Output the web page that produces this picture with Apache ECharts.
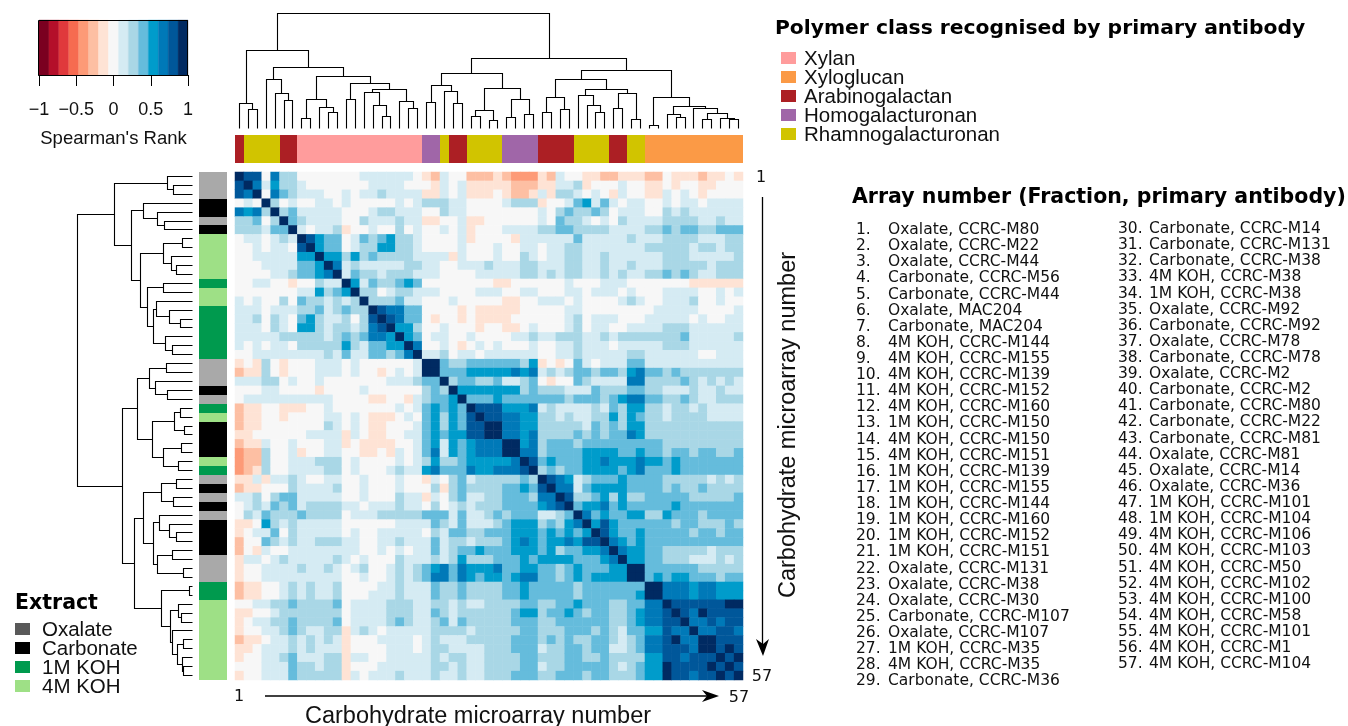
<!DOCTYPE html>
<html><head><meta charset="utf-8">
<style>html,body{margin:0;padding:0;background:#fff}#c{width:1348px;height:726px}</style>
<script src="https://cdn.jsdelivr.net/npm/echarts@6/dist/echarts.min.js"></script>
</head><body><div id="c"></div>
<script>
// Colour scale for Spearman's rank (15 bins from -1 to 1)
const rhoColors=['#7a0020','#b40f2a','#e0393c','#f66b50','#fd9a77','#fdbfa3','#fee3d5','#f7f7f7','#d5ebf3','#a9d7e6','#65bcdc','#009ccb','#0079b8','#00579a','#002a62'];
const rhoTicks=[-1,-0.5,0,0.5,1];
// Upper triangle of the symmetric matrix, each row starting on the diagonal.
// Bin codes: . = 0, 1..7 = positive bins, a b c = negative bins
const upperRows=[
"766.522.......111111.ab1..bbb"+"abcccab1..aabbaaabb.aaabaa.a",
"7514221.......1111...a1.1aaa"+"aabbbaa112a...1..aa.a..aa...",
"7.532111..1.1121111aa1.1aaa"+".abba1a221.1.a1..aa1.1.a....",
"72.1..11.1.....1.122211..."+".1222a..134131.11..1.11.1111",
"72311111...122111..211..."+".....1.232232.111..212111111",
"7321111..2111211aa..1aa."+".....1.3221.1.21111222211211",
"71.112a..1..2.1..1.1a.."+".111122332222111122323322333",
"76433.13234221....1a.."+"..a1111113111112111222211122",
"7433.12244221....1..."+"1..11.1122111111122222122122",
"744242322221111a1..."+"1..21.1122112111111222111112",
"7512111112211..1112"+"1112211122112112111222221222",
"713221222111....11"+"1112212122112121122323211222",
"741322343........"+"aa......1...111.......aaaaaa",
"722.122111....11"+"1..11...11.111.1...1111..1.1",
"7222311...1...."+".aa..111.1....121..1112..1..",
"765533....a.aa"+"aaa.....11........11111....1",
"76533.a..a.aa"+"aa......12.111...11111.1..11",
"7442..1...a."+".aa.1...12.11..1111222111111",
"743.11..1.."+"..11211222112122222223111112",
"75..1.a.1."+"1...1..112111.11111222111111",
"7112.11.1"+"11111..1121111122111111..111",
"77322333"+"33324a.a.31.1113311111111111",
"7333444"+"4454512123323324533232222222",
"723322"+"31123.a..3211115522223212121",
"74444"+"4442322211132223322111211211",
"7333"+"4333333323332345533223211222",
"766"+"6444512111121324422122121111",
"76"+"6554422121122424322122221111",
"7"+"7554422222132324422222222222",
"7554522223232335422222222222",
"774523332333333333222222222",
"75523333444433433233233223",
"7634333445444544343333333",
"723233444434533343333333",
"76541233343333222221212",
"7551344443333232232222",
"762234242233333222223",
"73445343333343333333",
"7534334422433323333",
"746433333323322232",
"76433433333233233",
"7543433333333333",
"754433222221222",
"74433222111212",
"7733333322222",
"734344333233",
"77555455444",
"7555455444",
"766666677",
"76576666",
"7556566",
"755665",
"77666",
"7676",
"767",
"76",
"7"];
const binCode={'.':0,'1':1,'2':2,'3':3,'4':4,'5':5,'6':6,'7':7,'a':-1,'b':-2,'c':-3};

// Row / column annotations, one letter per array number (1..57)
const polymerCodes="AYYYYAAXXXXXXXXXXXXXXHHYAAYYYYHHHHAAAAYYYYAAYYGGGGGGGGGGG";
const polymerNames=['Xylan','Xyloglucan','Arabinogalactan','Homogalacturonan','Rhamnogalacturonan'];
const polymerColors={X:'#ff9c9c',G:'#fb9a46',A:'#ac1f24',H:'#a066a8',Y:'#d1c400'};
const polymerLegendKeys=['X','G','A','H','Y'];
const extractCodes="OOOCCOC44444144111111OOOCO14CCCC41OCOCOCCCCOOO11444444444";
const extractNames=['Oxalate','Carbonate','1M KOH','4M KOH'];
const extractColors={O:'#a9a9a9',C:'#000000','1':'#009a4e','4':'#9ee086'};
const extractLegendColors=['#595959','#000000','#009a4e','#9ee086'];

// Dendrogram: [height, left, right]; integers are leaf indices
const dendroTree=[115,
 [78,[25,0,[19,1,2]],
  [61,[49,3,[35,4,[28,5,6]]],
   [52,[29,[10,7,8],[21,9,[16,10,11]]],
    [45,[29,12,13],
     [39,[36,14,[23,15,[12,16,17]]],[27,18,[20,19,20]]]]]]],
 [70,
  [55,[43,[26,21,22],[37,23,[25,24,25]]],
   [40,[18,[12,26,27],[8,28,29]],[29,[11,30,31],[14,32,33]]]],
  [58,
   [49,[31,[16,34,35],[19,36,37]],
    [39,[33,38,[23,39,[16,40,41]]],[35,[20,42,43],[9,44,45]]]],
   [31,[3,46,47],
    [22,[14,48,[11,49,50]],
     [20,51,[15,[9,52,53],[10,54,[9,55,56]]]]]]]]];

const arrayLabels=["Oxalate, CCRC-M80","Oxalate, CCRC-M22","Oxalate, CCRC-M44","Carbonate, CCRC-M56","Carbonate, CCRC-M44","Oxalate, MAC204","Carbonate, MAC204","4M KOH, CCRC-M144","4M KOH, CCRC-M155","4M KOH, CCRC-M139","4M KOH, CCRC-M152","4M KOH, CCRC-M160","1M KOH, CCRC-M150","4M KOH, CCRC-M150","4M KOH, CCRC-M151","1M KOH, CCRC-M139","1M KOH, CCRC-M155","1M KOH, CCRC-M144","1M KOH, CCRC-M160","1M KOH, CCRC-M152","1M KOH, CCRC-M151","Oxalate, CCRC-M131","Oxalate, CCRC-M38","Oxalate, CCRC-M30","Carbonate, CCRC-M107","Oxalate, CCRC-M107","1M KOH, CCRC-M35","4M KOH, CCRC-M35","Carbonate, CCRC-M36","Carbonate, CCRC-M14","Carbonate, CCRC-M131","Carbonate, CCRC-M38","4M KOH, CCRC-M38","1M KOH, CCRC-M38","Oxalate, CCRC-M92","Carbonate, CCRC-M92","Oxalate, CCRC-M78","Carbonate, CCRC-M78","Oxalate, CCRC-M2","Carbonate, CCRC-M2","Carbonate, CCRC-M80","Carbonate, CCRC-M22","Carbonate, CCRC-M81","Oxalate, CCRC-M81","Oxalate, CCRC-M14","Oxalate, CCRC-M36","1M KOH, CCRC-M101","1M KOH, CCRC-M104","4M KOH, CCRC-M106","4M KOH, CCRC-M103","4M KOH, CCRC-M50","4M KOH, CCRC-M102","4M KOH, CCRC-M100","4M KOH, CCRC-M58","4M KOH, CCRC-M101","4M KOH, CCRC-M1","4M KOH, CCRC-M104"];

const N=57, BIN=2/15;
upperRows.forEach((r,i)=>{if(r.length!==N-i)console.error('row',i,'length',r.length);});
const cells=[];
upperRows.forEach((r,i)=>{for(let k=0;k<r.length;k++){const v=binCode[r[k]]*BIN,j=i+k;cells.push([j,i,v]);if(j!==i)cells.push([i,j,v]);}});
const pieces=rhoColors.map((c,i)=>({min:-1+i*BIN,max:-1+(i+1)*BIN,color:c}));
const cats=Array.from({length:N},(_,i)=>String(i+1));

// layout of the dendrogram from the tree
const segs=[];
(function walk(n){
  if(typeof n==='number')return{x:n+0.5,h:0};
  const a=walk(n[1]),b=walk(n[2]);
  segs.push([a.x,a.h,b.x,b.h,n[0]]);
  return{x:(a.x+b.x)/2,h:n[0]};
})(dendroTree);

const lineStyle={stroke:'#000',lineWidth:1.1,fill:null};
const snap=v=>Math.round(v-0.5)+0.5;
function dendroRender(horizontal){
  return function(p,api){
    const d=[0,1,2,3,4].map(i=>api.value(i));
    const P=(x,h)=>{const c=api.coord(horizontal?[x,h]:[h,x]);return [snap(c[0]),snap(c[1])];};
    return{type:'polyline',silent:true,shape:{points:[P(d[0],d[1]),P(d[0],d[4]),P(d[2],d[4]),P(d[2],d[3])]},style:lineStyle};
  };
}
function stripRender(codes,cmap,horizontal){
  return function(p,api){
    const i=api.value(0);
    const a=api.coord(horizontal?[i,0]:[0,i]),b=api.coord(horizontal?[i+1,1]:[1,i+1]);
    const x0=Math.round(Math.min(a[0],b[0])),x1=Math.round(Math.max(a[0],b[0])),y0=Math.round(Math.min(a[1],b[1])),y1=Math.round(Math.max(a[1],b[1]));
    return{type:'rect',silent:true,shape:{x:x0,y:y0,width:x1-x0,height:y1-y0},style:{fill:cmap[codes[i]]}};
  };
}
const idx=Array.from({length:N},(_,i)=>[i]);
const hidden=(o)=>Object.assign({show:false,type:'value'},o);

const HX=235,HY=172,HS=508;
const grids=[
 {left:HX,top:HY,width:HS,height:HS},
 {left:HX,top:135,width:HS,height:28},
 {left:199,top:HY,width:28,height:HS},
 {left:HX,top:13,width:HS,height:115.5},
 {left:77,top:HY,width:115.5,height:HS},
 {left:39,top:20,width:149,height:55}
].map(g=>Object.assign({outerBoundsMode:'none',show:false},g));

const xAxes=[
 {gridIndex:0,type:'category',data:cats,show:false},
 hidden({gridIndex:1,min:0,max:N}),
 hidden({gridIndex:2,min:0,max:1}),
 hidden({gridIndex:3,min:0,max:N}),
 hidden({gridIndex:4,min:0,max:115,inverse:true}),
 {gridIndex:5,type:'value',min:-1,max:1,interval:0.5,position:'bottom',
  axisLine:{show:true,onZero:false,lineStyle:{color:'#000',width:1}},
  axisTick:{show:true,length:11,lineStyle:{color:'#000',width:1}},
  splitLine:{show:false},
  axisLabel:{show:true,margin:26,color:'#111',fontFamily:'Liberation Sans',fontSize:18,showMinLabel:true,showMaxLabel:true,hideOverlap:false,
    formatter:v=>String(v).replace('-','\u2212')},
  name:"Spearman's Rank",nameLocation:'middle',nameGap:54,nameTextStyle:{color:'#111',fontFamily:'Liberation Sans',fontSize:18.5}}
];
const yAxes=[
 {gridIndex:0,type:'category',data:cats,inverse:true,show:false},
 hidden({gridIndex:1,min:0,max:1}),
 hidden({gridIndex:2,min:0,max:N,inverse:true}),
 hidden({gridIndex:3,min:0,max:115}),
 hidden({gridIndex:4,min:0,max:N,inverse:true}),
 hidden({gridIndex:5,min:0,max:1})
];
const cbarData=rhoColors.map((c,i)=>[-1+i*BIN,-1+(i+1)*BIN,i]);

const series=[
 {type:'heatmap',xAxisIndex:0,yAxisIndex:0,data:cells,silent:true,progressive:0,itemStyle:{borderWidth:0},emphasis:{disabled:true}},
 {type:'custom',xAxisIndex:1,yAxisIndex:1,data:idx,renderItem:stripRender(polymerCodes,polymerColors,true),silent:true},
 {type:'custom',xAxisIndex:2,yAxisIndex:2,data:idx,renderItem:stripRender(extractCodes,extractColors,false),silent:true},
 {type:'custom',xAxisIndex:3,yAxisIndex:3,data:segs,renderItem:dendroRender(true),silent:true},
 {type:'custom',xAxisIndex:4,yAxisIndex:4,data:segs,renderItem:dendroRender(false),silent:true},
 {type:'custom',xAxisIndex:5,yAxisIndex:5,data:cbarData,silent:true,encode:{x:[0,1]},
  renderItem:(p,api)=>{const a=api.coord([api.value(0),1]),b=api.coord([api.value(1),0]);
   return{type:'rect',silent:true,shape:{x:a[0],y:a[1],width:b[0]-a[0],height:b[1]-a[1]},style:{fill:rhoColors[api.value(2)],stroke:rhoColors[api.value(2)],lineWidth:0.3}};}}
];

// Text, legends and arrows
const SANS='Liberation Sans', DV='DejaVu Sans';
const T=(text,x,y,font,extra)=>Object.assign({type:'text',silent:true,style:Object.assign({text,x,y,font,fill:'#111',textVerticalAlign:'middle'},extra||{})});
const g=[];
g.push({type:'rect',silent:true,z:50,shape:{x:38.5,y:20.5,width:149,height:55},style:{fill:null,stroke:'#000',lineWidth:1}});
g.push(T('Polymer class recognised by primary antibody',775,28.5,'bold 20.3px "'+DV+'"',{fill:'#000'}));
polymerNames.forEach((n,i)=>{
  g.push({type:'rect',silent:true,shape:{x:781,y:52+19*i,width:15,height:12},style:{fill:polymerColors[polymerLegendKeys[i]]}});
  g.push(T(n,804,59+19*i,'20.5px "'+SANS+'"'));
});
g.push(T('Array number (Fraction, primary antibody)',852,198,'bold 20.5px "'+DV+'"',{fill:'#000'}));
arrayLabels.forEach((s,i)=>{
  const c2=i>=29, r=c2?i-29:i, y=(c2?229:230)+r*16.12;
  g.push(T((i+1)+'.',c2?1118:856,y,'15.5px "'+DV+'"'));
  g.push(T(s,c2?1149:888,y,'15.5px "'+DV+'"'));
});
g.push(T('Extract',15,604,'bold 20.5px "'+DV+'"',{fill:'#000'}));
extractNames.forEach((n,i)=>{
  g.push({type:'rect',silent:true,shape:{x:15,y:623+19*i,width:15,height:12},style:{fill:extractLegendColors[i]}});
  g.push(T(n,42,630+19*i,'20.5px "'+SANS+'"'));
});
g.push(T('1',761,178,'16px "'+DV+'"',{textAlign:'center'}));
g.push(T('57',762,677,'16px "'+DV+'"',{textAlign:'center'}));
g.push(T('1',239,697,'16px "'+DV+'"',{textAlign:'center'}));
g.push(T('57',739,698,'16px "'+DV+'"',{textAlign:'center'}));
g.push({type:'line',silent:true,shape:{x1:762.5,y1:197,x2:762.5,y2:645},style:{stroke:'#000',lineWidth:1.3}});
g.push({type:'polygon',silent:true,shape:{points:[[756,639],[763,644],[769,639],[763,656]]},style:{fill:'#000'}});
g.push({type:'line',silent:true,shape:{x1:265,y1:696,x2:708,y2:696},style:{stroke:'#000',lineWidth:1.3}});
g.push({type:'polygon',silent:true,shape:{points:[[702,690],[707,696],[702,702],[719,696]]},style:{fill:'#000'}});
g.push({type:'text',silent:true,x:789,y:425,rotation:Math.PI/2,style:{text:'Carbohydrate microarray number',x:0,y:0,font:'23.5px "'+SANS+'"',fill:'#111',textAlign:'center',textVerticalAlign:'middle'}});
g.push(T('Carbohydrate microarray number',478,717,'23.5px "'+SANS+'"',{textAlign:'center'}));

const chart=echarts.init(document.getElementById('c'),null,{renderer:'canvas'});
chart.setOption({animation:false,backgroundColor:'#fff',grid:grids,xAxis:xAxes,yAxis:yAxes,
 visualMap:{type:'piecewise',show:false,seriesIndex:0,dimension:2,pieces:pieces},
 series:series,graphic:{elements:g}});
</script></body></html>
